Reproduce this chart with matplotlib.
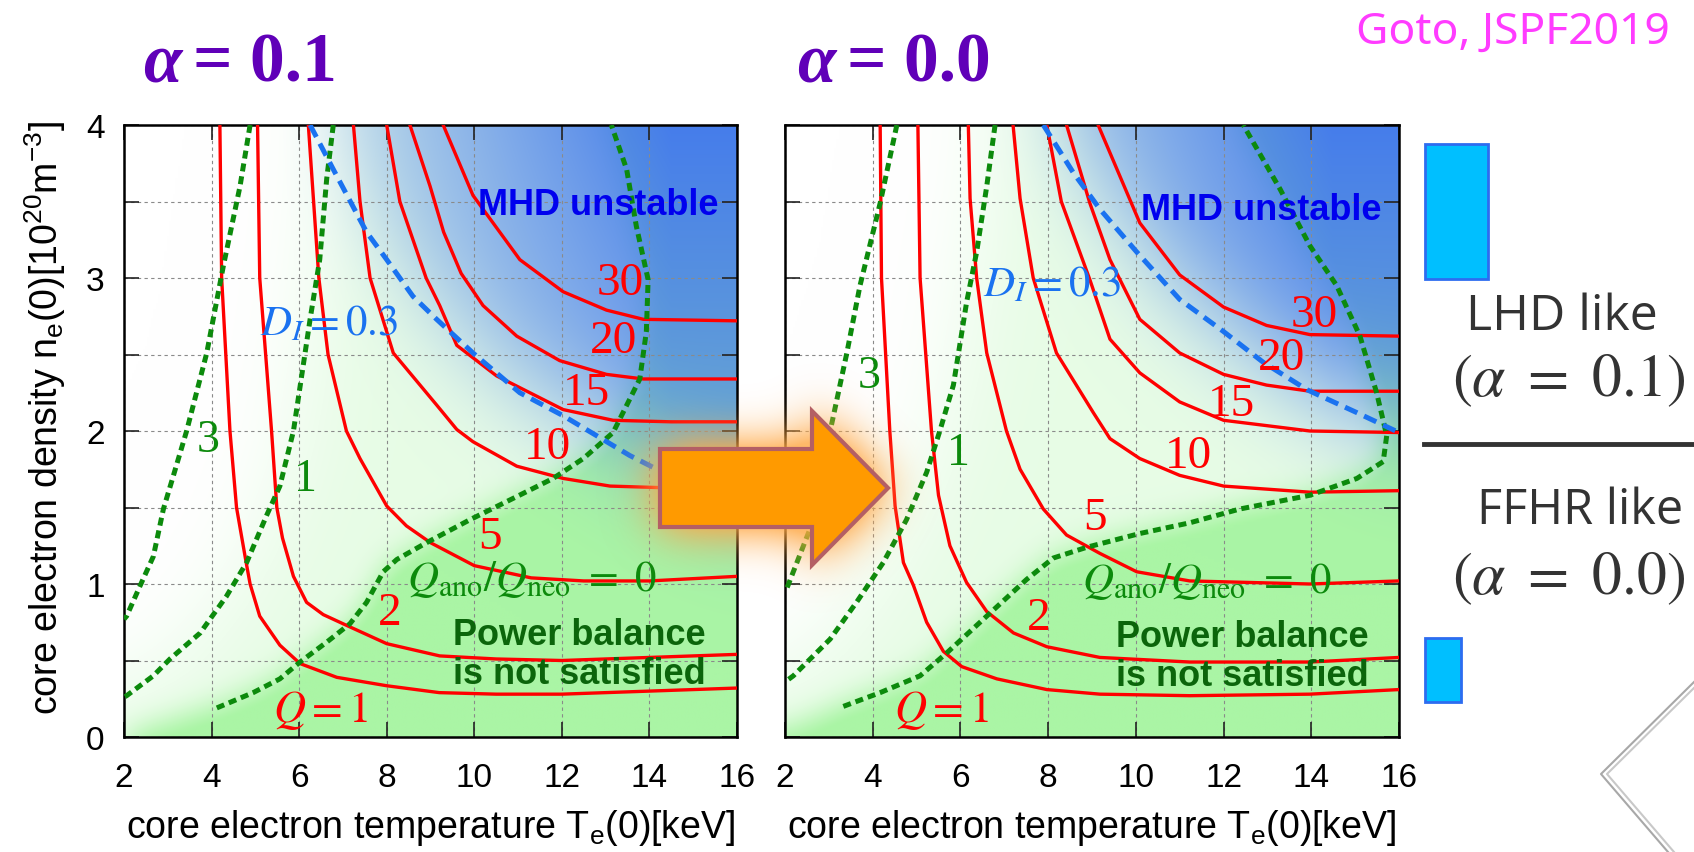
import numpy as np
import matplotlib
matplotlib.use("Agg")
import matplotlib.pyplot as plt
from matplotlib.path import Path
from matplotlib.patches import Polygon, Rectangle
from matplotlib.lines import Line2D

plt.rcParams["font.family"] = ["Liberation Sans", "DejaVu Sans"]
plt.rcParams["mathtext.fontset"] = "custom"
plt.rcParams["mathtext.rm"] = "Liberation Sans"
plt.rcParams["mathtext.it"] = "Liberation Sans:italic"
plt.rcParams["mathtext.bf"] = "Liberation Sans:bold"

# ---------------- data ----------------
Q_LEVELS = [1, 2, 5, 10, 15, 20, 30]          # fusion gain contours (red)
ANO_LEVELS = [3, 1, 0]                         # Q_ano/Q_neo contours (green dotted)
DI_LEVEL = 0.3                                 # D_I contour (blue dashed)
X_TICKS = [2, 4, 6, 8, 10, 12, 14, 16]
Y_TICKS = [0, 1, 2, 3, 4]
Y_GRID = [0, 0.5, 1, 1.5, 2, 2.5, 3, 3.5, 4]

# alpha = 0.1 : Te(0) [keV] and ne(0) [1e20 m^-3] along each contour
QT_A01 = [
    [4.19, 4.23, 4.42, 4.57, 4.79, 4.88, 5.10, 5.56, 6.02, 6.86, 8.0, 9.2, 10.5, 12.0, 14.0, 16.0],
    [5.05, 5.10, 5.37, 5.49, 5.62, 5.87, 6.17, 6.55, 7.08, 8.0, 9.21, 10.5, 12.0, 14.0, 16.0],
    [6.21, 6.45, 6.66, 7.08, 7.39, 8.0, 8.45, 9.0, 10.0, 11.3, 12.5, 14.0, 16.0],
    [7.24, 7.39, 7.62, 8.15, 9.14, 9.6, 9.97, 10.97, 12.03, 13.1, 14.24, 16.0],
    [8.0, 8.3, 8.9, 9.21, 9.6, 10.51, 12.03, 13.17, 14.5, 16.0],
    [8.53, 8.99, 9.3, 9.7, 10.2, 10.97, 11.95, 13.02, 13.86, 16.0],
    [9.29, 9.97, 11.04, 12.03, 13.02, 13.86, 16.0],
]
QN_A01 = [
    [4.0, 3.0, 2.0, 1.5, 1.14, 1.0, 0.79, 0.6, 0.48, 0.39, 0.335, 0.29, 0.28, 0.28, 0.30, 0.32],
    [4.0, 3.0, 2.0, 1.5, 1.3, 1.05, 0.88, 0.80, 0.73, 0.61, 0.53, 0.51, 0.50, 0.52, 0.54],
    [4.0, 3.0, 2.5, 2.0, 1.82, 1.51, 1.38, 1.27, 1.12, 1.04, 1.02, 1.02, 1.05],
    [4.0, 3.5, 3.0, 2.51, 2.17, 2.01, 1.93, 1.77, 1.69, 1.64, 1.63, 1.63],
    [4.0, 3.5, 3.0, 2.82, 2.56, 2.36, 2.14, 2.07, 2.06, 2.06],
    [4.0, 3.6, 3.3, 3.03, 2.82, 2.62, 2.46, 2.37, 2.34, 2.34],
    [4.0, 3.54, 3.12, 2.91, 2.79, 2.73, 2.72],
]
ANO_T_A01 = [
    [4.88, 4.65, 4.27, 3.89, 3.43, 3.13, 2.9, 2.67, 2.37, 2.06, 2.0],
    [6.78, 6.63, 6.47, 6.25, 5.87, 5.56, 5.26, 4.8, 4.34, 3.74, 3.05, 2.67, 2.06, 2.0],
    [4.12, 4.95, 5.56, 6.02, 6.63, 7.16, 7.54, 7.92, 8.23, 8.91, 9.9, 10.89, 11.8, 12.49,
     13.17, 13.78, 13.93, 13.97, 13.7, 13.48, 13.13],
]
ANO_N_A01 = [
    [4.0, 3.6, 3.08, 2.51, 2.0, 1.71, 1.49, 1.18, 0.99, 0.79, 0.77],
    [4.0, 3.65, 3.12, 2.73, 2.0, 1.64, 1.45, 1.14, 0.92, 0.68, 0.51, 0.40, 0.27, 0.26],
    [0.19, 0.29, 0.38, 0.49, 0.62, 0.74, 0.88, 1.08, 1.16, 1.27, 1.42, 1.56, 1.69, 1.82,
     1.99, 2.34, 2.65, 2.99, 3.34, 3.71, 4.0],
]
DI_T_A01 = [6.25, 6.78, 7.54, 8.0, 8.6, 9.14, 9.97, 11.04, 12.03, 12.79, 13.55, 14.24, 16.0]
DI_N_A01 = [4.0, 3.71, 3.3, 3.12, 2.88, 2.73, 2.51, 2.25, 2.1, 1.97, 1.84, 1.74, 1.5]

# alpha = 0.0
QT_A00 = [
    [4.17, 4.2, 4.39, 4.51, 4.7, 4.93, 5.23, 5.61, 6.03, 6.83, 7.97, 9.18, 11.23, 13.97, 16.0],
    [5.03, 5.08, 5.34, 5.5, 5.76, 6.14, 6.6, 7.21, 7.97, 9.18, 11.23, 13.97, 16.0],
    [6.18, 6.22, 6.37, 6.6, 7.05, 7.36, 7.89, 8.42, 9.18, 10.02, 11.23, 13.97, 16.0],
    [7.2, 7.36, 7.66, 8.19, 9.03, 9.41, 10.09, 11.0, 12.0, 13.97, 16.0],
    [7.97, 8.3, 8.95, 9.41, 10.09, 11.0, 12.0, 13.97, 16.0],
    [8.42, 8.95, 9.41, 10.09, 11.0, 12.0, 12.98, 13.97, 16.0],
    [9.14, 10.09, 11.0, 12.0, 12.98, 13.97, 16.0],
]
QN_A00 = [
    [4.0, 3.0, 2.0, 1.51, 1.14, 0.99, 0.75, 0.56, 0.46, 0.38, 0.31, 0.28, 0.27, 0.28, 0.31],
    [4.0, 3.0, 2.0, 1.58, 1.25, 1.01, 0.82, 0.68, 0.59, 0.52, 0.49, 0.49, 0.52],
    [4.0, 3.52, 3.0, 2.51, 2.0, 1.75, 1.49, 1.32, 1.2, 1.08, 1.02, 1.0, 1.02],
    [4.0, 3.52, 3.0, 2.51, 2.12, 1.95, 1.82, 1.71, 1.64, 1.6, 1.61],
    [4.0, 3.5, 2.99, 2.6, 2.38, 2.19, 2.07, 2.0, 1.99],
    [4.0, 3.49, 3.12, 2.73, 2.51, 2.37, 2.3, 2.26, 2.26],
    [4.0, 3.36, 3.02, 2.81, 2.69, 2.63, 2.62],
]
ANO_T_A00 = [
    [4.55, 4.17, 3.71, 3.41, 3.03, 2.57, 2.04, 2.0],
    [6.79, 6.6, 6.37, 6.14, 5.84, 5.53, 5.23, 4.77, 4.24, 3.63, 3.03, 2.19, 2.0],
    [3.33, 4.17, 5.08, 5.69, 6.6, 7.51, 8.12, 8.88, 10.09, 11.23, 12.37, 13.97, 15.04,
     15.64, 15.72, 15.49, 15.11, 14.58, 13.97, 13.29, 12.45],
]
ANO_N_A00 = [
    [4.0, 3.49, 2.95, 2.51, 2.0, 1.36, 0.97, 0.95],
    [4.0, 3.6, 3.17, 2.84, 2.3, 2.0, 1.73, 1.42, 1.14, 0.88, 0.64, 0.4, 0.36],
    [0.2, 0.29, 0.4, 0.55, 0.79, 1.03, 1.17, 1.24, 1.33, 1.4, 1.49, 1.58, 1.69,
     1.8, 1.97, 2.25, 2.62, 2.95, 3.21, 3.58, 4.0],
]
DI_T_A00 = [7.89, 8.57, 9.18, 10.02, 11.0, 12.0, 12.9, 13.9, 15.04, 16.0]
DI_N_A00 = [4.0, 3.69, 3.45, 3.17, 2.86, 2.65, 2.45, 2.27, 2.12, 1.99]

# ---------------- figure ----------------
W, H = 1694, 853
fig = plt.figure(figsize=(W / 100, H / 100), dpi=100)
fig.patch.set_facecolor("white")


def fx(px):
    return px / W


def fy(py):
    return 1 - py / H


RED = "#ff0000"
GREEN = "#0c8a0c"
BLUE = "#1a72f0"
PURPLE = "#6000b8"
SERIF = ["Liberation Serif", "DejaVu Serif"]

XS = np.linspace(2, 16, 281)
YS = np.linspace(0, 4, 201)
GX, GY = np.meshgrid(XS, YS)
GPTS = np.c_[GX.ravel(), GY.ravel()]


def blur(a, sx, sy):
    out = a
    for axis, s in ((1, sx), (0, sy)):
        r = int(3 * s) + 1
        t = np.arange(-r, r + 1)
        k = np.exp(-0.5 * (t / s) ** 2)
        k /= k.sum()
        pad = [(0, 0), (0, 0)]
        pad[axis] = (r, r)
        p = np.pad(out, pad, mode="edge")
        out = np.apply_along_axis(lambda v: np.convolve(v, k, mode="valid"), axis, p)
    return out


def region(verts):
    return Path(verts).contains_points(GPTS).reshape(GX.shape).astype(float)


def background(ano_t, ano_n, di_t, di_n):
    t0, n0 = ano_t[2], ano_n[2]
    poly = [(1.0, -0.1)] + list(zip(t0, n0)) + [(t0[-1], 5.0), (17.0, 5.0), (17.0, -1.0), (1.0, -1.0)]
    g = np.clip(blur(region(poly), 0.3 / 0.05, 0.1 / 0.02) * 1.2, 0, 1)
    t1, n1 = ano_t[1], ano_n[1]
    poly1 = [(t1[0], 5.0)] + list(zip(t1, n1)) + [(1.0, n1[-1]), (1.0, -1.0), (17.0, -1.0), (17.0, 5.0)]
    pale = blur(region(poly1), 1.0 / 0.05, 0.3 / 0.02) * 0.28
    G = np.clip(g + pale * (1 - g), 0, 1)[..., None]
    polyb = [(di_t[0], 5.0)] + list(zip(di_t, di_n)) + [(17.0, di_n[-1]), (17.0, 5.0)]
    b = blur(region(polyb), 0.8 / 0.05, 0.35 / 0.02)
    B = (b * np.clip((GX - 5.5) / 9, 0, 1) ** 0.8 * (0.6 + 0.4 * np.clip((GY - 1.5) / 2.5, 0, 1)))[..., None]
    white = np.ones(3)
    gcol = np.array([170, 245, 165]) / 255
    bcol = np.array([70, 125, 235]) / 255
    rgb = white * (1 - G) + gcol * G
    rgb = rgb * (1 - B) + bcol * B
    return rgb


def panel(ax, qt, qn, at, an, dt, dn, q_lab, q1_lab, ano_lab, ano0_lab, di_lab, mhd_xy, pb_xy, left):
    ax.imshow(background(at, an, dt, dn), extent=(2, 16, 0, 4), origin="lower",
              aspect="auto", interpolation="bilinear", zorder=0)
    ax.set_xlim(2, 16)
    ax.set_ylim(0, 4)
    ax.set_xticks(X_TICKS)
    ax.set_xticklabels([str(v) for v in X_TICKS])
    ax.set_yticks(Y_GRID)
    ax.set_yticklabels([f"{v:g}" if v in Y_TICKS else "" for v in Y_GRID])
    ax.grid(True, color="#8a8a8a", lw=0.8, ls=(0, (3, 3)))
    ax.set_axisbelow(True)
    ax.tick_params(direction="in", length=11, width=1.2, color="#222222",
                   top=True, right=True, labelsize=24)
    ax.tick_params(axis="x", pad=18)
    ax.tick_params(axis="y", pad=14, labelleft=left)
    for s in ax.spines.values():
        s.set_linewidth(1.8)
        s.set_color("black")

    for lev, t, n in zip(Q_LEVELS, qt, qn):
        ax.plot(t, n, color=RED, lw=2.4, zorder=3, solid_joinstyle="round")
    for lev, t, n in zip(ANO_LEVELS, at, an):
        ax.plot(t, n, color=GREEN, lw=3.6, ls=(0, (1.6, 1.0)), zorder=4)
    ax.plot(dt, dn, color=BLUE, lw=3.6, ls=(0, (2.7, 1.5)), zorder=4)

    for lev, (x, y) in zip(Q_LEVELS[1:], q_lab):
        ax.text(x, y, f"{lev}", color=RED, fontsize=34, family=SERIF,
                ha="center", va="center", zorder=5)
    ax.text(q1_lab[0], q1_lab[1], r"$Q = %d$" % Q_LEVELS[0], color=RED, fontsize=32,
            math_fontfamily="stix", ha="center", va="center", zorder=5)
    for lev, (x, y) in zip(ANO_LEVELS[:2], ano_lab):
        ax.text(x, y, f"{lev}", color=GREEN, fontsize=33, family=SERIF,
                ha="center", va="center", zorder=5)
    ax.text(ano0_lab[0], ano0_lab[1],
            r"$Q_{\rm ano}/Q_{\rm neo}\ =\ %d$" % ANO_LEVELS[2],
            color=GREEN, fontsize=31, math_fontfamily="stix", ha="left", va="baseline", zorder=5)
    ax.text(di_lab[0], di_lab[1], r"$D_I = %.1f$" % DI_LEVEL, color=BLUE, fontsize=31,
            math_fontfamily="stix", ha="left", va="baseline", zorder=5)
    ax.text(mhd_xy[0], mhd_xy[1], "MHD unstable", color="#0000ee", fontsize=26,
            fontweight="bold", ha="center", va="center", zorder=5)
    ax.text(pb_xy[0], pb_xy[1], "Power balance\nis not satisfied", color="#0b650b",
            fontsize=26, fontweight="bold", ha="center", va="center",
            multialignment="center", linespacing=1.15, zorder=5)


axL = fig.add_axes([fx(124), fy(738), (737 - 124) / W, (738 - 126) / H])
axR = fig.add_axes([fx(785), fy(738), (1399 - 785) / W, (738 - 126) / H])

panel(axL, QT_A01, QN_A01, ANO_T_A01, ANO_N_A01, DI_T_A01, DI_N_A01,
      q_lab=[(8.07, 0.81), (10.36, 1.31), (11.67, 1.90), (12.56, 2.25), (13.19, 2.59), (13.34, 2.97)],
      q1_lab=(6.5, 0.18), ano_lab=[(3.91, 1.94), (6.15, 1.69)], ano0_lab=(8.47, 0.96),
      di_lab=(5.1, 2.63), mhd_xy=(12.84, 3.48), pb_xy=(12.39, 0.54), left=True)
panel(axR, QT_A00, QN_A00, ANO_T_A00, ANO_N_A00, DI_T_A00, DI_N_A00,
      q_lab=[(7.78, 0.78), (9.07, 1.43), (11.21, 1.84), (12.18, 2.18), (13.32, 2.48), (14.06, 2.76)],
      q1_lab=(5.57, 0.18), ano_lab=[(3.92, 2.36), (5.95, 1.86)], ano0_lab=(8.77, 0.95),
      di_lab=(6.51, 2.89), mhd_xy=(12.86, 3.45), pb_xy=(12.43, 0.53), left=False)

# axis labels
for cx in (431, 1092):
    fig.text(fx(cx), fy(838), r"core electron temperature T$_\mathrm{e}$(0)[keV]",
             ha="center", va="baseline", fontsize=27)
fig.text(fx(45), fy(418), r"core electron density n$_\mathrm{e}$(0)[10$^{20}$m$^{-3}$]",
         rotation=90, ha="center", va="center", fontsize=27)

# panel titles
for x_a, x_eq, val in ((143, 193, "0.1"), (797, 847, "0.0")):
    fig.text(fx(x_a), fy(82), "α", family=SERIF, fontweight="bold", fontstyle="italic",
             fontsize=50, color=PURPLE, va="baseline")
    fig.text(fx(x_eq), fy(82), "= " + val, family=SERIF, fontweight="bold",
             fontsize=50, color=PURPLE, va="baseline")

fig.text(fx(1356), fy(44), "Goto, JSPF2019", color="#ff3cff", fontsize=32,
         family=["Noto Sans", "DejaVu Sans"], va="baseline")

# right-hand annotations
fig.add_artist(Rectangle((fx(1425), fy(280)), (1488 - 1425) / W, (280 - 145) / H,
                         transform=fig.transFigure, fc="#00bfff", ec="#2d6cf0", lw=2))
fig.add_artist(Rectangle((fx(1425), fy(703)), (1461 - 1425) / W, (703 - 639) / H,
                         transform=fig.transFigure, fc="#00bfff", ec="#2d6cf0", lw=2))
fig.text(fx(1466), fy(330), "LHD like", family=["Open Sans", "DejaVu Sans"], fontsize=36,
         color="#333333", va="baseline")
fig.text(fx(1452), fy(396), r"$(\alpha\ =\ 0.1)$", math_fontfamily="stix", fontsize=43,
         color="#333333", va="baseline")
fig.add_artist(Line2D([fx(1424), fx(1694)], [fy(445), fy(445)], transform=fig.transFigure,
                      color="#333333", lw=3.5))
fig.text(fx(1477), fy(524), "FFHR like", family=["Open Sans", "DejaVu Sans"], fontsize=35,
         color="#333333", va="baseline")
fig.text(fx(1452), fy(594), r"$(\alpha\ =\ 0.0)$", math_fontfamily="stix", fontsize=43,
         color="#333333", va="baseline")
for off, col in ((0, "#a8a8a8"), (6, "#c8c8c8")):
    fig.add_artist(Line2D([fx(1694 + off), fx(1601 + off), fx(1668 + off)],
                          [fy(683), fy(775), fy(853)], transform=fig.transFigure,
                          color=col, lw=1.5))

# arrow with a soft glow, drawn on top of both panels
gx0, gx1, gy0, gy1 = 560, 1000, 320, 660
oax = fig.add_axes([fx(gx0), fy(gy1), (gx1 - gx0) / W, (gy1 - gy0) / H], zorder=10)
oax.set_xlim(gx0, gx1)
oax.set_ylim(gy1, gy0)
oax.axis("off")
arrow = [(660, 450), (812, 450), (812, 412), (888, 489), (812, 566), (812, 528), (660, 528)]
px, py = np.meshgrid(np.arange(gx0, gx1) + 0.5, np.arange(gy0, gy1) + 0.5)
amask = Path(arrow).contains_points(np.c_[px.ravel(), py.ravel()]).reshape(px.shape).astype(float)
halo = np.clip(blur(amask, 24, 24) * 1.9, 0, 1) * 0.8
glow = np.zeros(px.shape + (4,))
glow[..., 0] = 1.0
glow[..., 1] = 0.66
glow[..., 2] = 0.27
glow[..., 3] = halo
oax.imshow(glow, extent=(gx0, gx1, gy1, gy0), origin="upper", aspect="auto",
           interpolation="bilinear", zorder=1)
oax.add_patch(Polygon(arrow, closed=True, fc="#ff9a00", ec="#b45f64", lw=3, zorder=2))

fig.savefig("out.png", dpi=100)
